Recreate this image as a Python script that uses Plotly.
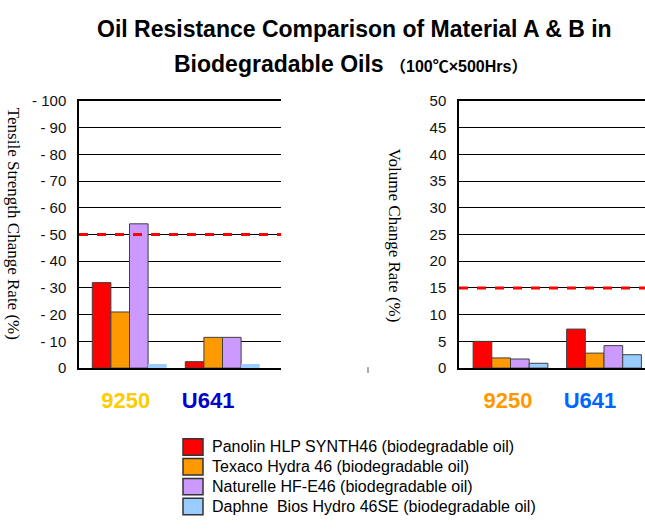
import plotly.graph_objects as go

# ---- data ----
materials = ["9250", "U641"]
material_colors_left = ["#FFCC00", "#0000CC"]
material_colors_right = ["#FF9900", "#0066FF"]
oils = [
    "Panolin HLP SYNTH46 (biodegradable oil)",
    "Texaco Hydra 46 (biodegradable oil)",
    "Naturelle HF-E46 (biodegradable oil)",
    "Daphne  Bios Hydro 46SE (biodegradable oil)",
]
oil_colors = ["#FF0000", "#FF9900", "#CC99FF", "#99CCFF"]

# tensile strength change rate (magnitude, %) per oil: [9250, U641]
tensile = [
    [32, 2.4],
    [21, 11.5],
    [54, 11.5],
    [1.5, 1.5],
]
# volume change rate (%) per oil: [9250, U641]
volume = [
    [5.0, 7.3],
    [1.9, 2.8],
    [1.7, 4.2],
    [0.9, 2.5],
]
tensile_limit = 50
volume_limit = 15

tensile_ticks = [0, 10, 20, 30, 40, 50, 60, 70, 80, 90, 100]
tensile_ticktext = ["0"] + ["- %d" % v for v in tensile_ticks[1:]]
volume_ticks = [0, 5, 10, 15, 20, 25, 30, 35, 40, 45, 50]

xpos = [0, 1]
label_shift_left = [-0.04, -0.155]
label_shift_right = [-0.027, -0.15]

# ---- figure ----
W, H = 645, 529
fig = go.Figure()

for i, (name, col) in enumerate(zip(oils, oil_colors)):
    left_line = dict(color="#99CCFF", width=0) if i == 3 else dict(color="#404040", width=1)
    fig.add_trace(go.Bar(
        x=xpos, y=tensile[i], name=name, marker=dict(color=col, line=left_line),
        xaxis="x", yaxis="y", showlegend=False,
    ))
for i, (name, col) in enumerate(zip(oils, oil_colors)):
    fig.add_trace(go.Bar(
        x=xpos, y=volume[i], name=name, marker=dict(color=col, line=dict(color="#404040", width=1)),
        xaxis="x2", yaxis="y2", showlegend=False,
    ))

ydom = [1 - 371 / H, 1 - 95 / H]
axis_font = dict(family="Liberation Sans, Arial", size=15, color="#111")
cat_font = dict(family="Liberation Sans, Arial", size=22, color="#000")

fig.update_layout(
    width=W, height=H,
    margin=dict(l=0, r=0, t=0, b=0),
    paper_bgcolor="white", plot_bgcolor="white",
    barmode="group", bargap=0.2, bargroupgap=0,
    showlegend=False,
    xaxis=dict(
        domain=[79 / W, 281 / W], range=[-0.543, 1.629],
        tickvals=[p + s for p, s in zip(xpos, label_shift_left)],
        ticktext=["<b><span style='color:%s'>%s</span></b>" % (c, m) for m, c in zip(materials, material_colors_left)],
        tickfont=cat_font, ticks="", showgrid=False, zeroline=False,
        showline=True, linecolor="#000", linewidth=1.5, mirror=True,
        ticklabelstandoff=12, anchor="y",
    ),
    yaxis=dict(
        domain=ydom, range=[0, 100], tickvals=tensile_ticks, ticktext=tensile_ticktext,
        tickfont=axis_font, showgrid=True, gridcolor="#000", gridwidth=1,
        zeroline=False, showline=True, linecolor="#000", linewidth=1.5,
        ticks="", ticklabelstandoff=8, anchor="x",
    ),
    xaxis2=dict(
        domain=[459 / W, 1.0], range=[-0.551, 1.4385],
        tickvals=[p + s for p, s in zip(xpos, label_shift_right)],
        ticktext=["<b><span style='color:%s'>%s</span></b>" % (c, m) for m, c in zip(materials, material_colors_right)],
        tickfont=cat_font, ticks="", showgrid=False, zeroline=False,
        showline=True, linecolor="#000", linewidth=1.5, mirror=True,
        ticklabelstandoff=12, anchor="y2",
    ),
    yaxis2=dict(
        domain=ydom, range=[0, 50], tickvals=volume_ticks,
        tickfont=axis_font, showgrid=True, gridcolor="#000", gridwidth=1,
        zeroline=False, showline=True, linecolor="#000", linewidth=1.5,
        ticks="", ticklabelstandoff=8, anchor="x2",
    ),
)

# reference limit lines
fig.add_shape(type="line", xref="x domain", yref="y", x0=0, x1=1, y0=tensile_limit, y1=tensile_limit,
              line=dict(color="#FF0000", width=3, dash="dash"))
fig.add_shape(type="line", xref="x2 domain", yref="y2", x0=0, x1=1, y0=volume_limit, y1=volume_limit,
              line=dict(color="#FF0000", width=3, dash="dash"))
# small stray tick mark left of right chart
fig.add_shape(type="line", xref="paper", yref="paper", x0=368 / W, x1=368 / W,
              y0=1 - 370 / H, y1=1 - 376 / H, line=dict(color="#555", width=1))

# legend (drawn as swatches + labels, one row per oil)
for i, (name, col) in enumerate(zip(oils, oil_colors)):
    top = 444 + 20.5 * i
    fig.add_shape(type="rect", xref="paper", yref="paper",
                  x0=183 / W, x1=203 / W, y0=1 - top / H, y1=1 - (top + 17) / H,
                  fillcolor=col, line=dict(color="#333", width=1.5))
    fig.add_annotation(text=name.replace("  ", " &nbsp;"), xref="paper", yref="paper",
                       x=210 / W, y=1 - (top + 8.5) / H,
                       xanchor="left", yanchor="middle", showarrow=False,
                       font=dict(family="Liberation Sans, Arial", size=16, color="#000"))

# titles
fig.add_annotation(text="<b>Oil Resistance Comparison of Material A & B in</b>", xref="paper", yref="paper",
                   x=95 / W, y=1 - 20.5 / H, xanchor="left", yanchor="middle", showarrow=False,
                   font=dict(family="Liberation Sans, Arial", size=23, color="#000"))
fig.add_annotation(text="<b>Biodegradable Oils&nbsp;<span style='font-size:16px'>（100℃×500Hrs）</span></b>",
                   xref="paper", yref="paper",
                   x=172 / W, y=1 - 57 / H, xanchor="left", yanchor="middle", showarrow=False,
                   font=dict(family="Liberation Sans, Noto Sans CJK JP", size=23, color="#000"))

# axis titles (reading top to bottom)
fig.add_annotation(text="Tensile Strength Change Rate (%)", xref="paper", yref="paper",
                   x=13 / W, y=1 - 222 / H, xanchor="center", yanchor="middle", textangle=90, showarrow=False,
                   font=dict(family="Liberation Serif, Times New Roman", size=17, color="#000"))
fig.add_annotation(text="Volume Change Rate (%)", xref="paper", yref="paper",
                   x=395 / W, y=1 - 234 / H, xanchor="center", yanchor="middle", textangle=90, showarrow=False,
                   font=dict(family="Liberation Serif, Times New Roman", size=17, color="#000"))

fig.write_html("out.html", config={"displayModeBar": False},
               post_script="document.body.style.margin='0';document.body.style.overflow='hidden';")
